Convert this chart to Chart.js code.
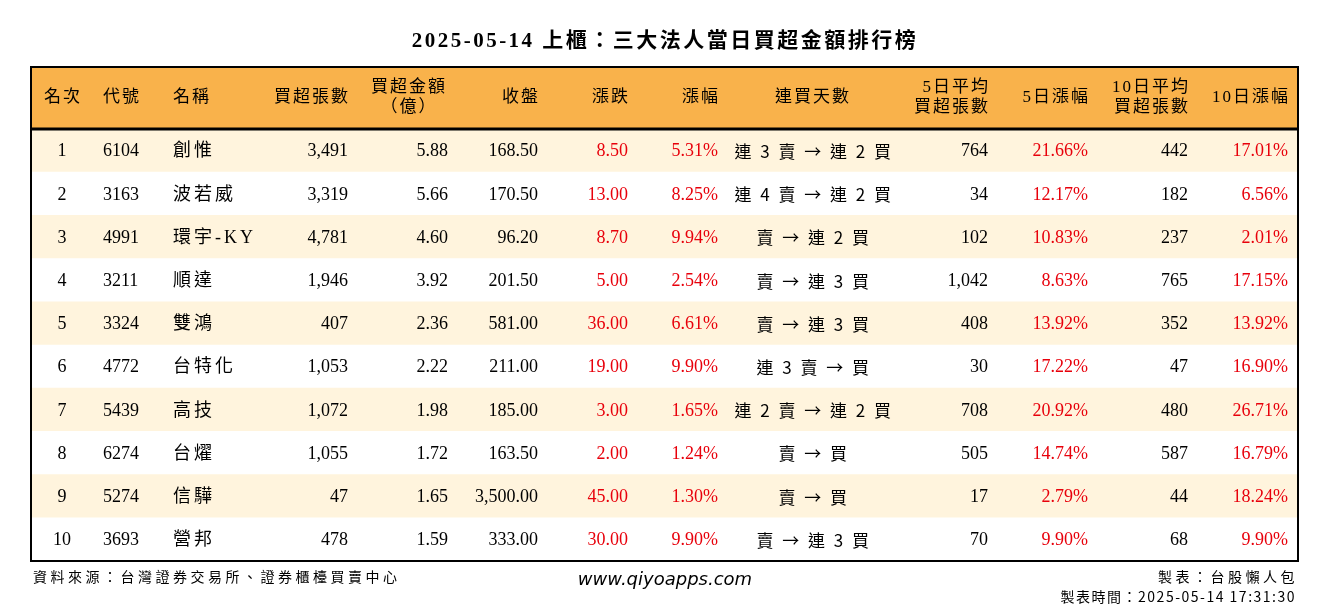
<!DOCTYPE html>
<html><head><meta charset="utf-8">
<script src="https://cdn.jsdelivr.net/npm/chart.js@4"></script>
<style>html,body{margin:0;background:#fff}#c{display:block}</style>
</head><body>
<canvas id="c" width="1330" height="612"></canvas>
<script>
const ranks = ['1','2','3','4','5','6','7','8','9','10'];
const codes = ['6104','3163','4991','3211','3324','4772','5439','6274','5274','3693'];
const names = ['創惟','波若威','環宇-KY','順達','雙鴻','台特化','高技','台燿','信驊','營邦'];
const netLots = ['3,491','3,319','4,781','1,946','407','1,053','1,072','1,055','47','478'];
const netAmount = ['5.88','5.66','4.60','3.92','2.36','2.22','1.98','1.72','1.65','1.59'];
const closes = ['168.50','170.50','96.20','201.50','581.00','211.00','185.00','163.50','3,500.00','333.00'];
const changes = ['8.50','13.00','8.70','5.00','36.00','19.00','3.00','2.00','45.00','30.00'];
const changePct = ['5.31%','8.25%','9.94%','2.54%','6.61%','9.90%','1.65%','1.24%','1.30%','9.90%'];
const streaks = ['連 3 賣 → 連 2 買','連 4 賣 → 連 2 買','賣 → 連 2 買','賣 → 連 3 買','賣 → 連 3 買','連 3 賣 → 買','連 2 賣 → 連 2 買','賣 → 買','賣 → 買','賣 → 連 3 買'];
const avg5 = ['764','34','102','1,042','408','30','708','505','17','70'];
const pct5 = ['21.66%','12.17%','10.83%','8.63%','13.92%','17.22%','20.92%','14.74%','2.79%','9.90%'];
const avg10 = ['442','182','237','765','352','47','480','587','44','68'];
const pct10 = ['17.01%','6.56%','2.01%','17.15%','13.92%','16.90%','26.71%','16.79%','18.24%','9.90%'];

const headers = [['名次'],['代號'],['名稱'],['買超張數'],['買超金額','（億）'],['收盤'],['漲跌'],['漲幅'],['連買天數'],['5日平均','買超張數'],['5日漲幅'],['10日平均','買超張數'],['10日漲幅']];
const cols = [
  {d:ranks, x:31, a:'center', hx:31, ha:'center'},
  {d:codes, x:72, a:'left', hx:72, ha:'left'},
  {d:names, x:142, a:'left', hx:142, ha:'left', sp:'3px'},
  {d:netLots, x:317, a:'right', hx:317, ha:'right'},
  {d:netAmount, x:417, a:'right', hx:377, ha:'center'},
  {d:closes, x:507, a:'right', hx:507, ha:'right'},
  {d:changes, x:597, a:'right', red:true, hx:597, ha:'right'},
  {d:changePct, x:687, a:'right', red:true, hx:687, ha:'right'},
  {d:streaks, x:783, a:'center', hx:781, ha:'center', cjk:true, sp:'2.5px'},
  {d:avg5, x:957, a:'right', hx:957, ha:'right'},
  {d:pct5, x:1057, a:'right', red:true, hx:1057, ha:'right'},
  {d:avg10, x:1157, a:'right', hx:1157, ha:'right'},
  {d:pct10, x:1257, a:'right', red:true, hx:1257, ha:'right'}
];

const HEAD = 1.435;
const rowCenters = ranks.map((r, i) => HEAD + i + 0.5);
const W = 1267;

const FONT = '"Liberation Serif","Noto Sans CJK TC",serif';
const CJK = '"Noto Sans CJK TC",sans-serif';

const tablePlugin = {
  id: 'table',
  beforeDatasetsDraw(chart) {
    const {ctx, scales: {x, y}} = chart;
    ctx.save();
    ctx.fillStyle = '#f9b24b';
    const t = y.getPixelForValue(0), b = y.getPixelForValue(HEAD);
    ctx.fillRect(x.getPixelForValue(0), t, x.getPixelForValue(W) - x.getPixelForValue(0), b - t);
    ctx.restore();
  },
  afterDatasetsDraw(chart) {
    const {ctx, scales: {x, y}, chartArea: ca} = chart;
    ctx.save();
    ctx.textBaseline = 'middle';
    ctx.fillStyle = '#000';
    ctx.font = '17px ' + FONT;
    ctx.letterSpacing = '2px';
    const hc = y.getPixelForValue(HEAD / 2);
    headers.forEach((h, j) => {
      ctx.textAlign = cols[j].ha;
      const px = x.getPixelForValue(cols[j].hx) + (cols[j].ha === 'right' ? 2 : cols[j].ha === 'center' ? 1 : 0);
      if (h.length === 1) ctx.fillText(h[0], px, hc);
      else { ctx.fillText(h[0], px, hc - 10); ctx.fillText(h[1], px, hc + 10); }
    });
    rowCenters.forEach((c, i) => {
      const py = y.getPixelForValue(c) + 1;
      cols.forEach(col => {
        ctx.font = col.cjk ? '17px ' + CJK : '18px ' + FONT;
        ctx.letterSpacing = col.sp || '0px';
        ctx.textAlign = col.a;
        ctx.fillStyle = col.red ? '#e8000b' : '#000';
        ctx.fillText(col.d[i], x.getPixelForValue(col.x), py);
      });
    });
    ctx.letterSpacing = '0px';
    ctx.strokeStyle = '#000';
    ctx.lineWidth = 2;
    ctx.strokeRect(ca.left, ca.top, ca.right - ca.left, ca.bottom - ca.top);
    ctx.lineWidth = 3;
    const hy = y.getPixelForValue(HEAD);
    ctx.beginPath(); ctx.moveTo(ca.left, hy); ctx.lineTo(ca.right, hy); ctx.stroke();
    ctx.fillStyle = '#000';
    ctx.textAlign = 'center';
    ctx.font = 'bold 21px ' + FONT;
    ctx.letterSpacing = '2.5px';
    ctx.fillText('2025-05-14 上櫃：三大法人當日買超金額排行榜', 665, 42);
    ctx.font = '14px ' + CJK;
    ctx.letterSpacing = '3.5px';
    ctx.textAlign = 'left';
    ctx.fillText('資料來源：台灣證券交易所、證券櫃檯買賣中心', 33, 577);
    ctx.textAlign = 'right';
    ctx.fillText('製表：台股懶人包', 1298, 577);
    ctx.letterSpacing = '1.5px';
    ctx.fillText('製表時間：2025-05-14 17:31:30', 1296, 597);
    ctx.letterSpacing = '0px';
    ctx.textAlign = 'center';
    ctx.font = 'italic 18px "DejaVu Sans",sans-serif';
    ctx.fillText('www.qiyoapps.com', 665, 580);
    ctx.restore();
  }
};

new Chart(document.getElementById('c'), {
  type: 'bar',
  data: {
    datasets: [
      {data: rowCenters.map(c => ({x: W, y: c})), backgroundColor: rowCenters.map((c, i) => i % 2 ? '#ffffff' : '#fff4dd'), grouped: false, categoryPercentage: 1, barPercentage: 1}
    ]
  },
  options: {
    indexAxis: 'y',
    responsive: false,
    animation: false,
    layout: {padding: {left: 31, right: 32, top: 67, bottom: 51}},
    plugins: {legend: {display: false}, tooltip: {enabled: false}},
    scales: {
      x: {type: 'linear', min: 0, max: W, display: false},
      y: {type: 'linear', min: 0, max: HEAD + 10, reverse: true, offset: false, display: false}
    }
  },
  plugins: [tablePlugin]
});
</script>
</body></html>
